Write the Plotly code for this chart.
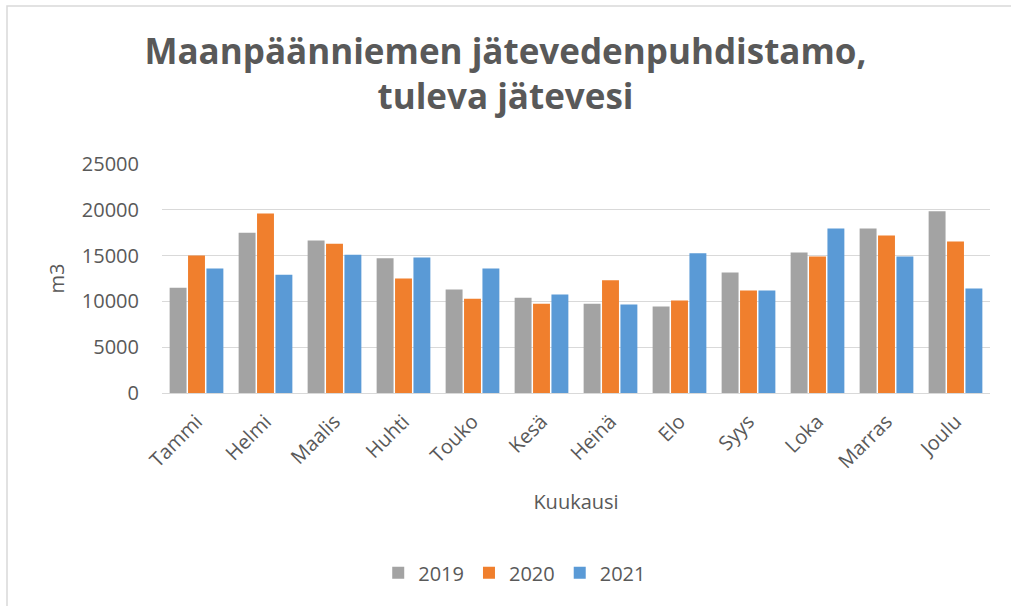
import plotly.graph_objects as go

months = ["Tammi", "Helmi", "Maalis", "Huhti", "Touko", "Kesä", "Heinä", "Elo", "Syys", "Loka", "Marras", "Joulu"]
v2019 = [11500, 17500, 16650, 14700, 11300, 10400, 9750, 9450, 13150, 15350, 17950, 19850]
v2020 = [15000, 19600, 16300, 12500, 10300, 9750, 12300, 10100, 11200, 14900, 17200, 16550]
v2021 = [13600, 12900, 15100, 14800, 13600, 10750, 9650, 15250, 11200, 17950, 14900, 11400]
years = ["2019", "2020", "2021"]
colors = ["#a3a3a3", "#f07f2d", "#5a9ad6"]

fig = go.Figure()
for name, vals, c in zip(years, [v2019, v2020, v2021], colors):
    fig.add_trace(go.Bar(x=months, y=vals, name=name, marker=dict(color=c, line=dict(width=0))))

font_family = "Open Sans, Liberation Sans, sans-serif"
fig.update_layout(
    width=1011, height=606,
    margin=dict(l=162, r=21, t=164, b=213),
    paper_bgcolor="white", plot_bgcolor="white",
    font=dict(family=font_family, color="#595959"),
    title=dict(text="<b>Maanpäänniemen jätevedenpuhdistamo,<br>tuleva jätevesi</b>",
               x=0.5, xanchor="center", y=0.895, yanchor="top",
               font=dict(size=35, color="#595959")),
    barmode="group", bargap=0.2, bargroupgap=0.08,
    legend=dict(orientation="h", x=0.426, xanchor="center", y=-0.7, yanchor="top",
                font=dict(size=20, color="#595959"), traceorder="normal", itemwidth=30),
    xaxis=dict(title=dict(text="Kuukausi", font=dict(size=20), standoff=21),
               tickangle=-45, tickfont=dict(size=20), showline=True,
               linecolor="#d9d9d9", linewidth=1, ticks="outside", ticklen=8,
               tickcolor="rgba(0,0,0,0)", automargin=False),
    yaxis=dict(title=dict(text="m3", font=dict(size=20), standoff=11),
               range=[0, 25000], dtick=5000, tickformat="d", tickfont=dict(size=20),
               showgrid=True, gridcolor="#d9d9d9", zeroline=False,
               ticks="outside", ticklen=18, tickcolor="rgba(0,0,0,0)", automargin=False),
    shapes=[dict(type="rect", xref="paper", yref="paper",
                 x0=-0.1872, x1=1.03, y0=-0.95, y1=1.69,
                 line=dict(color="#d9d9d9", width=1.5))],
)
fig.write_html("out.html", config={"displayModeBar": False},
               post_script="document.body.style.margin='0';")
